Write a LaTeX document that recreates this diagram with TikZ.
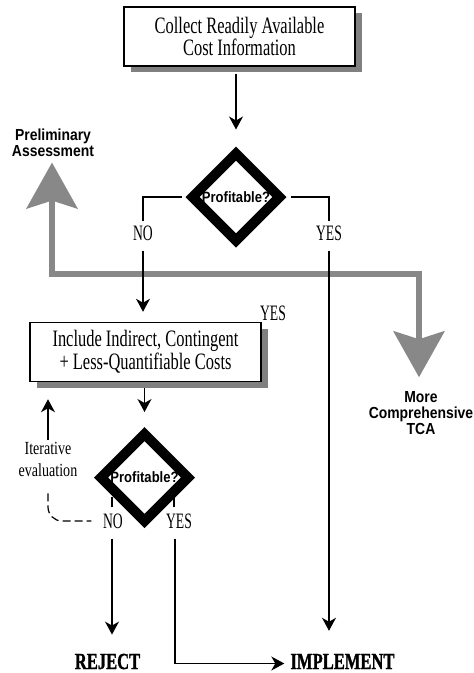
\documentclass[tikz,border=0pt]{standalone}
\usepackage{fontspec}
\usetikzlibrary{arrows.meta,shapes.geometric,shadows}
% condensed faces for the flowchart texts
\newfontfamily\boxfont[FakeStretch=0.7]{Liberation Serif}
\newfontfamily\labfont[FakeStretch=0.62]{Liberation Serif}
\newfontfamily\notefont[FakeStretch=0.76]{Liberation Serif}
\newfontfamily\endfont[FakeStretch=0.72,BoldFeatures={FakeBold=1.2}]{Liberation Serif}
\newfontfamily\headfont[FakeStretch=0.87]{Liberation Sans}
\definecolor{shade}{RGB}{128,128,128}
\definecolor{flow}{RGB}{136,136,136}

\begin{document}
\begin{tikzpicture}[x=1pt,y=-1pt,
  stepbox/.style={draw, line width=1.5pt, fill=white, minimum width=231pt,
    minimum height=59pt, inner sep=0pt, align=center,
    font=\boxfont\fontsize{23.5}{20}\selectfont,
    drop shadow={shadow xshift=7pt, shadow yshift=-6pt, fill=shade, opacity=1}},
  decision/.style={diamond, draw, line width=10pt, minimum width=91pt,
    minimum height=91pt, inner sep=0pt, fill=white,
    font=\headfont\bfseries\fontsize{15}{15}\selectfont},
  answer/.style={inner sep=4pt, font=\labfont\fontsize{22}{22}\selectfont},
  outcome/.style={inner sep=1pt, font=\endfont\bfseries\fontsize{23}{23}\selectfont},
  heading/.style={inner sep=0pt, align=center,
    font=\headfont\bfseries\fontsize{16}{16}\selectfont},
  note/.style={inner sep=0pt, align=center, font=\notefont\fontsize{18.5}{22}\selectfont},
  link/.style={line width=1.2pt},
  arr/.style={link, -{Stealth[length=13pt,width=14pt,inset=4pt]}},
  flowpath/.style={draw=flow, line width=5.5pt,
    {Stealth[length=46pt,width=51pt,inset=8pt]}-{Stealth[length=46pt,width=51pt,inset=8pt]}},
  ticks/.style={dash pattern=on 8pt off 4pt}
]
\useasboundingbox (0,0) rectangle (474,673);

% process boxes and decisions
\node[stepbox] (collect) at (239.5,36.5) {Collect Readily Available\\Cost Information};
\node[decision] (d1) at (236,197) {Profitable?};
\node[answer] (no1) at (143,233) {NO};
\node[answer] (yes1) at (329,233) {YES};
\node[stepbox] (include) at (145.5,352) {Include Indirect, Contingent\\+ Less-Quantifiable Costs};
\node[answer] (yes0) at (273,313) {YES};
\node[decision] (d2) at (144.5,477.5) {Profitable?};
\node[answer] (no2) at (113,521) {NO};
\node[answer] (yes2) at (179,521) {YES};
\node[outcome] (reject) at (107.5,661.5) {REJECT};
\node[outcome] (impl) at (342.5,661.5) {IMPLEMENT};

% side notes
\node[heading] (prelim) at (53,142.5) {Preliminary\\Assessment};
\node[heading] (tca) at (421,413) {More\\Comprehensive\\TCA};
\node[note] (iter) at (48,459) {Iterative\\evaluation};

% grey double arrow between the two levels of assessment
\coordinate (gl) at (52,274);
\coordinate (gr) at (419,274);
\draw[flowpath, shorten <=6pt, shorten >=14pt] (prelim.south -| gl) -- (gl) -- (gr) -- (tca.north -| gr);

% first decision
\draw[arr, shorten <=7pt, shorten >=17pt] (collect.south -| d1.north) -- (d1.north);
\draw[link] ([xshift=-4pt]d1.west) -| (no1.north);
\draw[link] ([xshift=4pt]d1.east) -| (yes1.north);
\draw[arr, shorten <=6pt, shorten >=10pt] (no1.south) -- (no1.south |- include.north);
\draw[arr, shorten <=6pt, shorten >=22pt] (yes1.south) -- (yes1.south |- impl.north);

% second decision
\draw[arr, shorten <=6pt, shorten >=15pt] (include.south -| d2.north) -- (d2.north);
\draw[link, shorten <=2pt] ([xshift=-1pt]no2.north) -- ++(0,-12);
\draw[link, shorten <=2pt] ([xshift=-5pt]yes2.north) -- ++(0,-12);
\draw[arr, shorten <=6pt, shorten >=18pt] ([xshift=-1pt]no2.south) -- ([xshift=-1pt]no2.south |- reject.north);
\draw[arr, shorten <=6pt, shorten >=5pt] ([xshift=-4pt]yes2.south) |- ([yshift=-2pt]impl.west);

% iteration loop
\draw[arr, shorten <=2pt, shorten >=17pt] (iter.north) -- (iter.north |- include.south);
\draw[link, ticks, rounded corners=14pt, shorten <=17pt, shorten >=7.5pt] (iter.south) |- (no2.west);
\end{tikzpicture}
\end{document}
